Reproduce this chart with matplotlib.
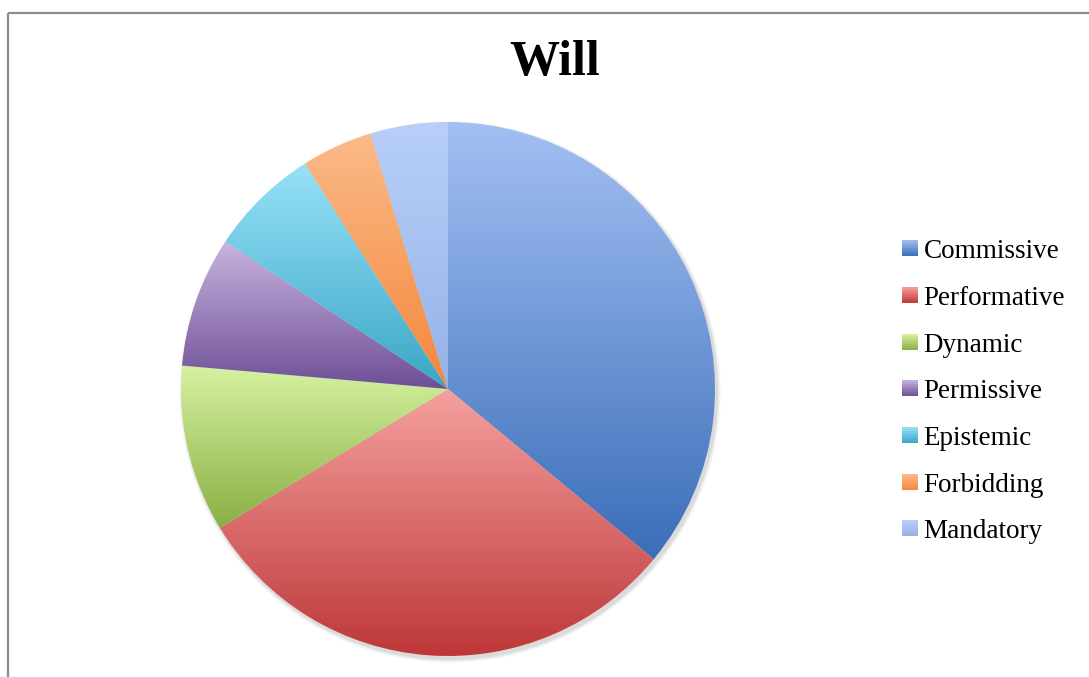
import numpy as np
import matplotlib
matplotlib.use("Agg")
import matplotlib.pyplot as plt
from matplotlib.patches import Rectangle, Circle
from matplotlib.legend_handler import HandlerBase
from matplotlib.colors import to_rgb

categories = ["Commissive", "Performative", "Dynamic", "Permissive",
              "Epistemic", "Forbidding", "Mandatory"]
values = [36.0, 30.3, 10.1, 7.9, 6.7, 4.3, 4.7]
title = "Will"

top_colors = ["#a4c0f4", "#f5a19f", "#d6f2a1", "#c9b3df", "#98e2f8", "#fbba88", "#b8cffa"]
bot_colors = ["#3a6eb8", "#be3738", "#89af43", "#6d4f95", "#3aa6c6", "#f4873b", "#95b2e6"]

W, H = 1089, 677
fig = plt.figure(figsize=(W / 100, H / 100), dpi=100)
ax = fig.add_axes([0, 0, 1, 1])
ax.set_xlim(0, W)
ax.set_ylim(0, H)
ax.set_axis_off()

cx, cy, R = 448, H - 389, 267

# soft shadow
for i, a in enumerate([0.05, 0.04, 0.03, 0.02]):
    ax.add_patch(Circle((cx + 2, cy - 3), R + 1 + i, facecolor="k", alpha=a,
                        edgecolor="none", zorder=0))

wedges, _ = ax.pie(values, startangle=90, counterclock=False, radius=R,
                   center=(cx, cy), frame=True,
                   wedgeprops=dict(linewidth=0, edgecolor="none"))
ax.set_xlim(0, W)
ax.set_ylim(0, H)
ax.set_aspect("equal")
ax.set_axis_off()


def grad(c_top, c_bot, n=256):
    t = np.linspace(0, 1, n)[:, None]
    a = np.array(to_rgb(c_bot))
    b = np.array(to_rgb(c_top))
    arr = a[None, :] * (1 - t) + b[None, :] * t
    return arr[:, None, :]


for w, ct, cb in zip(wedges, top_colors, bot_colors):
    w.set_facecolor("none")
    v = w.get_path().vertices
    x0, x1 = v[:, 0].min(), v[:, 0].max()
    y0, y1 = v[:, 1].min(), v[:, 1].max()
    y1 = min(y1, cy + R)
    y0 = max(y0, cy - R)
    im = ax.imshow(grad(ct, cb), extent=[x0 - 2, x1 + 2, y0, y1],
                   origin="lower", aspect="auto", zorder=2,
                   interpolation="bilinear")
    im.set_clip_path(w)

ax.set_xlim(0, W)
ax.set_ylim(0, H)

# title
ax.text(555, H - 63, title, ha="center", va="center", fontsize=36,
        fontweight="bold", family="Liberation Serif", color="black")

# border
ax.plot([7.5, 7.5], [0, H - 12.5], color="#8c8c8c", lw=1.6, solid_capstyle="butt")
ax.plot([7.5, W], [H - 12.5, H - 12.5], color="#8c8c8c", lw=1.6, solid_capstyle="butt")


class GradHandler(HandlerBase):
    def __init__(self, ct, cb):
        super().__init__()
        self.ct, self.cb = ct, cb

    def create_artists(self, legend, orig_handle, xdescent, ydescent,
                       width, height, fontsize, trans):
        n = 8
        arts = []
        s = width
        x = -xdescent
        y = -ydescent + (height - s) / 2 + 0.5
        a = np.array(to_rgb(self.cb))
        b = np.array(to_rgb(self.ct))
        for i in range(n):
            t = (i + 0.5) / n
            c = a * (1 - t) + b * t
            arts.append(Rectangle((x, y + s * i / n), s, s / n + 0.2,
                                  facecolor=c, edgecolor="none", transform=trans))
        return arts


handles = [Rectangle((0, 0), 1, 1) for _ in categories]
hmap = {h: GradHandler(ct, cb) for h, ct, cb in zip(handles, top_colors, bot_colors)}
leg = ax.legend(handles, categories, handler_map=hmap, loc="center left",
                bbox_to_anchor=(902 / W, 1 - 392 / H), bbox_transform=fig.transFigure,
                frameon=False, prop={"family": "Liberation Serif", "size": 19.5},
                handlelength=0.58, handleheight=0.7, handletextpad=0.22,
                labelspacing=0.80, borderpad=0, borderaxespad=0)

fig.savefig("out.png", dpi=100)
